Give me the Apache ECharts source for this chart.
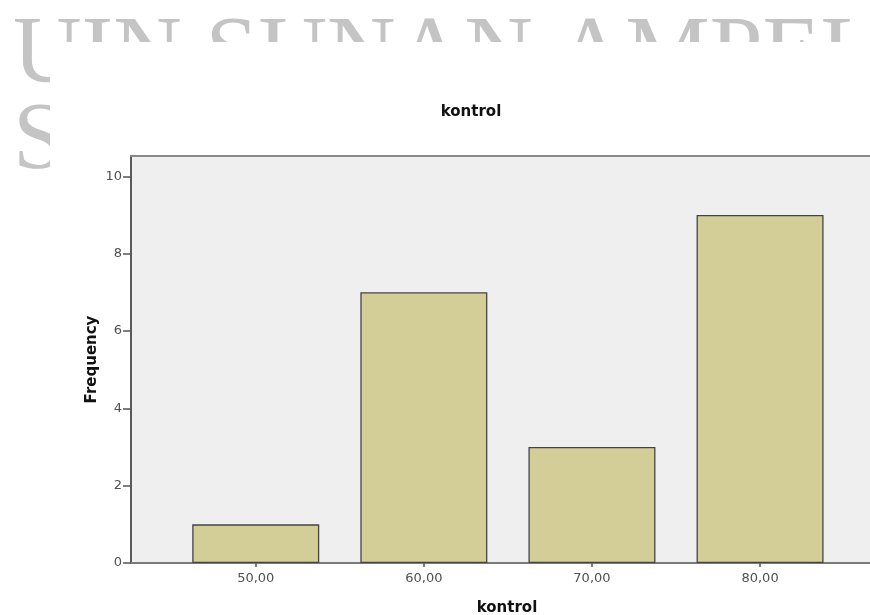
<!DOCTYPE html>
<html>
<head>
<meta charset="utf-8">
<script src="https://cdn.jsdelivr.net/npm/echarts@6/dist/echarts.min.js"></script>
<style>
  html, body { margin: 0; padding: 0; background: #ffffff; }
  #chart { width: 870px; height: 615px; }
</style>
</head>
<body>
<div id="chart"></div>
<script>
// ---- data ----
const categories = [50, 60, 70, 80];
const categoryLabels = ['50,00', '60,00', '70,00', '80,00'];
const frequency = [1, 7, 3, 9];
const yTicks = [0, 2, 4, 6, 8, 10];
const chartTitle = 'kontrol';
const xTitle = 'kontrol';
const yTitle = 'Frequency';
const watermarkLine1 = 'UIN SUNAN AMPEL';
const watermarkLine2 = 'SURABAYA';

const barData = categories.map((c, i) => [c, frequency[i]]);

const chart = echarts.init(document.getElementById('chart'), null, { renderer: 'canvas' });

const labelFont = { fontFamily: 'DejaVu Sans', fontSize: 13, color: '#505050' };
const X_MIN = 42.58, X_MAX = 86.54;

chart.setOption({
  animation: false,
  backgroundColor: '#ffffff',
  title: {
    text: chartTitle,
    left: 466,
    top: 100,
    textAlign: 'center',
    textStyle: { fontFamily: 'DejaVu Sans', fontWeight: 'bold', fontSize: 15, color: '#111' }
  },
  graphic: {
    elements: [
      {
        type: 'text', z: -20, x: 13, y: 10,
        style: { text: watermarkLine1, font: '95px "Liberation Serif"', fill: '#c4c4c4' }
      },
      {
        type: 'text', z: -20, x: 13, y: 96,
        style: { text: watermarkLine2, font: '95px "Liberation Serif"', fill: '#c4c4c4' }
      },
      {
        type: 'rect', z: -10,
        shape: { x: 50, y: 42, width: 830, height: 580 },
        style: { fill: '#ffffff' }
      }
    ]
  },
  grid: {
    left: 131,
    top: 156,
    right: 0,
    height: 407,
    show: true,
    backgroundColor: '#efefef',
    borderWidth: 0,
    containLabel: false,
    outerBoundsMode: 'none'
  },
  xAxis: [{
    type: 'value',
    min: X_MIN,
    max: X_MAX,
    name: xTitle,
    nameLocation: 'middle',
    nameGap: 38,
    nameMoveOverlap: false,
    nameTextStyle: { fontFamily: 'DejaVu Sans', fontWeight: 'bold', fontSize: 15, color: '#111', padding: [0, 0, 0, 13] },
    splitLine: { show: false },
    axisLine: { show: true, lineStyle: { color: '#7a7a7a', width: 2 } },
    axisTick: { show: true, length: 4, customValues: categories, lineStyle: { color: '#555', width: 1.5 } },
    axisLabel: {
      customValues: categories,
      margin: 9,
      formatter: v => categoryLabels[categories.indexOf(v)] || '',
      ...labelFont
    }
  }, {
    type: 'value',
    position: 'top',
    min: X_MIN,
    max: X_MAX,
    splitLine: { show: false },
    axisLine: { show: true, lineStyle: { color: '#8a8a8a', width: 2 } },
    axisTick: { show: false },
    axisLabel: { show: false }
  }],
  yAxis: {
    type: 'value',
    min: 0,
    max: 10.525,
    name: yTitle,
    nameLocation: 'middle',
    nameGap: 31,
    nameMoveOverlap: false,
    nameTextStyle: { fontFamily: 'DejaVu Sans', fontWeight: 'bold', fontSize: 15, color: '#111' },
    splitLine: { show: false },
    axisLine: { show: true, lineStyle: { color: '#5a5a5a', width: 2 } },
    axisTick: { show: true, length: 8, customValues: yTicks, lineStyle: { color: '#555', width: 1.5 } },
    axisLabel: {
      customValues: yTicks,
      margin: 9,
      ...labelFont
    }
  },
  series: [{
    type: 'bar',
    xAxisIndex: 0,
    data: barData,
    barWidth: 127,
    itemStyle: { color: '#d3ce97', borderColor: '#444444', borderWidth: 1.3 },
    emphasis: { disabled: true }
  }]
});
</script>
</body>
</html>
